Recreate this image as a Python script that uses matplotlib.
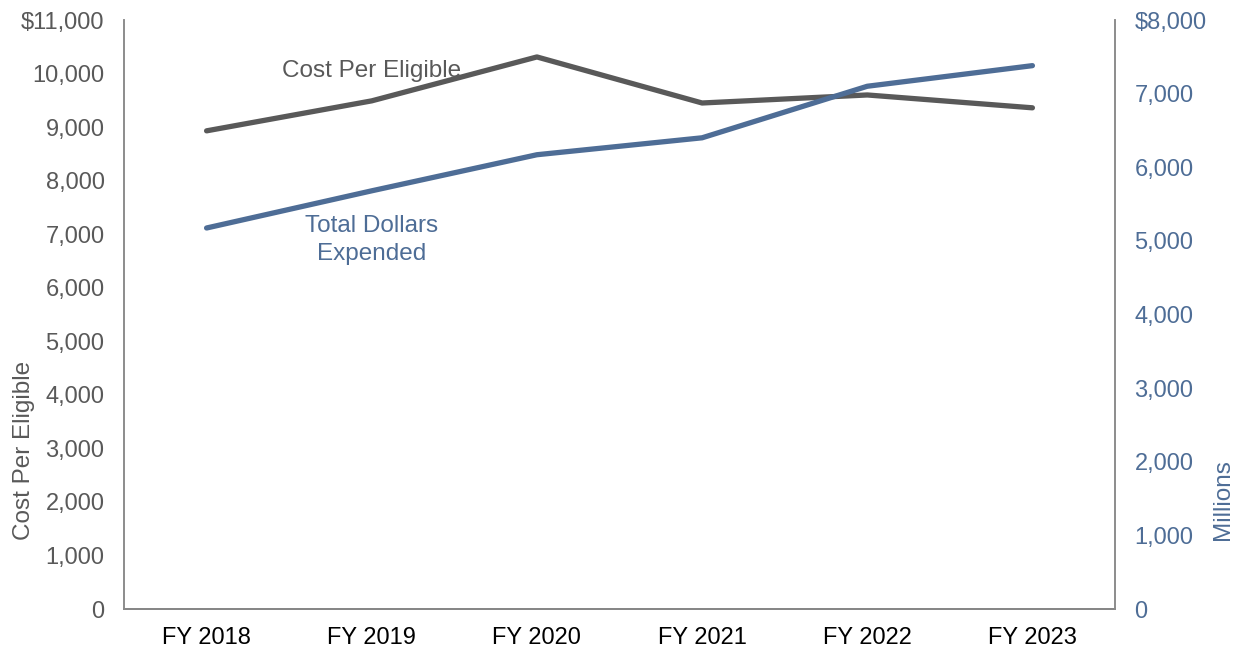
import matplotlib

matplotlib.use("Agg")
import matplotlib.pyplot as plt
from matplotlib.ticker import FuncFormatter

years = ["FY 2018", "FY 2019", "FY 2020", "FY 2021", "FY 2022", "FY 2023"]
cost_per_eligible = [8930, 9490, 10310, 9450, 9600, 9360]
total_dollars_millions = [5175, 5680, 6170, 6400, 7100, 7380]

gray = "#595959"
blue = "#4e6d96"

plt.rcParams["font.family"] = ["Liberation Sans", "DejaVu Sans"]

fig = plt.figure(figsize=(12.33, 6.51), dpi=100)
ax = fig.add_axes([124 / 1233, 1 - 609 / 651, (1115 - 124) / 1233, 589 / 651])
ax2 = ax.twinx()

x = list(range(len(years)))
ax.plot(x, cost_per_eligible, color=gray, linewidth=3.8, solid_capstyle="round")
ax2.plot(x, total_dollars_millions, color=blue, linewidth=3.8, solid_capstyle="round")

ax.set_xlim(-0.5, 5.5)
ax.set_ylim(0, 11000)
ax2.set_ylim(0, 8000)
ax.set_yticks(range(0, 11001, 1000))
ax2.set_yticks(range(0, 8001, 1000))
ax.set_xticks(x)
ax.set_xticklabels(years)


def left_fmt(v, pos):
    return f"${v:,.0f}" if v == 11000 else f"{v:,.0f}"


def right_fmt(v, pos):
    return f"${v:,.0f}" if v == 8000 else f"{v:,.0f}"


ax.yaxis.set_major_formatter(FuncFormatter(left_fmt))
ax2.yaxis.set_major_formatter(FuncFormatter(right_fmt))

for a in (ax, ax2):
    a.spines["top"].set_visible(False)
    for s in ("left", "right", "bottom"):
        a.spines[s].set_color("#8c8c8c")
        a.spines[s].set_linewidth(1.2)

ax.spines["bottom"].set_color("#595959")
fs = 17
lfs = 17.5
ax.tick_params(axis="y", length=0, pad=14, labelsize=fs, labelcolor=gray)
ax.tick_params(axis="x", length=0, pad=13, labelsize=fs, labelcolor="black")
ax2.tick_params(axis="y", length=0, pad=14, labelsize=fs, labelcolor=blue)

ax.set_ylabel("Cost Per Eligible", fontsize=lfs, color=gray)
ax.yaxis.set_label_coords(-0.09, 0.27)
ax2.set_ylabel("Millions", fontsize=lfs, color=blue)
ax2.yaxis.set_label_coords(1.098, 0.185)

ax.text(1, 10040, "Cost Per Eligible", fontsize=lfs, color=gray, ha="center", va="center")
ax2.text(1, 5010, "Total Dollars\nExpended", fontsize=lfs, color=blue, ha="center",
         va="center", linespacing=1.35)

fig.savefig("out.png", dpi=100)
